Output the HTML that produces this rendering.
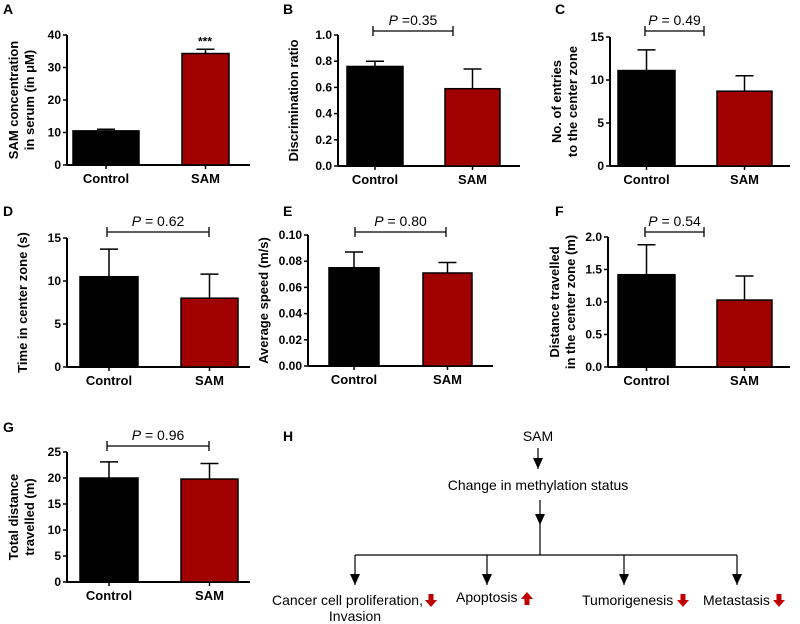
<!DOCTYPE html>
<html><head><meta charset="utf-8"><style>
body{margin:0;background:#fff;}
svg{display:block;font-family:"Liberation Sans",Arial,sans-serif;}
.t{font-size:12px;font-weight:bold;}
.lab{font-size:13px;font-weight:bold;}
.yl{font-size:13px;font-weight:bold;}
.pl{font-size:14px;font-weight:bold;}
.h{font-size:14px;}
</style></head><body>
<svg id="c" width="800" height="624" viewBox="0 0 800 624">
<defs><marker id="ar" markerWidth="12" markerHeight="12" refX="11" refY="5" orient="auto" markerUnits="userSpaceOnUse"><path d="M0,0 L11,5 L0,10 z" fill="#000"/></marker></defs>
</svg>
<script>
const categories=["Control","SAM"];
const meansA=[10.5,34.3], errA=[0.5,1.3];
const meansB=[0.76,0.59], errB=[0.04,0.15];
const meansC=[11.1,8.7], errC=[2.4,1.8];
const meansD=[10.5,8.0], errD=[3.2,2.8];
const meansE=[0.075,0.071], errE=[0.012,0.008];
const meansF=[1.42,1.03], errF=[0.46,0.37];
const meansG=[20.0,19.8], errG=[3.1,3.0];
const ticksA=["0","10","20","30","40"];
const ticksB=["0.0","0.2","0.4","0.6","0.8","1.0"];
const ticksC=["0","5","10","15"];
const ticksD=["0","5","10","15"];
const ticksE=["0.00","0.02","0.04","0.06","0.08","0.10"];
const ticksF=["0.0","0.5","1.0","1.5","2.0"];
const ticksG=["0","5","10","15","20","25"];
const svg=document.getElementById('c');
const NS="http://www.w3.org/2000/svg";
function mk(tag,at,parent,txt){const e=document.createElementNS(NS,tag);for(const k in at)e.setAttribute(k,at[k]);if(txt!=null)e.textContent=txt;(parent||svg).appendChild(e);return e;}
const colors=["#000","#a00000"];
function panel(id,letter,lx,ly,ax,top,bot,axEnd,bars,means,errs,ticks,ytitle,ptext,bracket){
  const g=mk('g',{});
  
  
  const L=mk('text',{x:lx,y:ly,class:'pl'},g,letter);
  
  
  const vmax=parseFloat(ticks[ticks.length-1]);
  const y=v=>bot-(v/vmax)*(bot-top);
  mk('line',{x1:ax,y1:top,x2:ax,y2:bot,stroke:'#000','stroke-width':2},g);
  mk('line',{x1:ax,y1:bot,x2:axEnd,y2:bot,stroke:'#000','stroke-width':2},g);
  ticks.forEach(t=>{const yy=y(parseFloat(t));
    mk('line',{x1:ax-4,y1:yy,x2:ax,y2:yy,stroke:'#000','stroke-width':1.5},g);
    const tt=mk('text',{x:ax-6,y:yy+4,'text-anchor':'end',class:'t'},g,t);
    
    
  });
  means.forEach((m,i)=>{const [x0,x1]=bars[i];const cx=(x0+x1)/2;
    const r=mk('rect',{x:x0,y:y(m),width:x1-x0,height:bot-y(m),fill:colors[i],stroke:'#000','stroke-width':1.5},g);
    
    
    mk('line',{x1:cx,y1:y(m),x2:cx,y2:y(m+errs[i]),stroke:'#000','stroke-width':1.5},g);
    mk('line',{x1:cx-9,y1:y(m+errs[i]),x2:cx+9,y2:y(m+errs[i]),stroke:'#000','stroke-width':1.5},g);
    mk('line',{x1:cx,y1:bot,x2:cx,y2:bot+4,stroke:'#000','stroke-width':1.5},g);
    const xl=mk('text',{x:cx,y:bot+18,'text-anchor':'middle',class:'lab'},g,categories[i]);
    
    
  });
  const tx=ax-40, ty=(top+bot)/2;
  const yt=mk('text',{transform:`translate(${tx-(ytitle.length>1?9:0)},${ty}) rotate(-90)`,'text-anchor':'middle',class:'yl'},g);
  
  
  ytitle.forEach((s,i)=>mk('tspan',{x:0,dy:i?16:0},yt,s));
  if(ptext){const [b0,b1,by]=bracket;
    mk('path',{d:`M${b0},${by-5}V${by+5}M${b0},${by}H${b1}M${b1},${by-5}V${by+5}`,stroke:'#000','stroke-width':1.3,fill:'none'},g);
    const pt=mk('text',{x:(b0+b1)/2,y:by-6,'text-anchor':'middle',style:'font-size:14px'},g);
    
    
    mk('tspan',{'font-style':'italic'},pt,'P');
    mk('tspan',{},pt,ptext);
  }
  return {g,y};
}
const pa=panel('a','A',3,14,67,35,165,250,[[73,139],[182,229]],meansA,errA,ticksA,["SAM concentration","in serum (in μM)"],null);
const st=mk('text',{x:205,y:pa.y(meansA[1]+errA[1])-4,'text-anchor':'middle',class:'t'},pa.g,'***');


panel('b','B',283,14,338,35,166,520,[[347,403],[445,500]],meansB,errB,ticksB,["Discrimination ratio"]," =0.35",[373,453,31]);
panel('c','C',555,14,610,37,166,790,[[618,675],[717,772]],meansC,errC,ticksC,["No. of entries","to the center zone"]," = 0.49",[645,704,31]);
panel('d','D',3,216,67,238,367,250,[[80,138],[181,238]],meansD,errD,ticksD,["Time in center zone (s)"]," = 0.62",[107,209,232]);
panel('e','E',283,216,308,235,366,493,[[329,379],[423,472]],meansE,errE,ticksE,["Average speed (m/s)"]," = 0.80",[355,446,232]);
panel('f','F',555,216,608,237,367,790,[[618,675],[717,772]],meansF,errF,ticksF,["Distance travelled","in the center zone (m)"]," = 0.54",[645,704,232]);
panel('g','G',3,432,67,452,582,250,[[80,138],[181,238]],meansG,errG,ticksG,["Total distance","travelled (m)"]," = 0.96",[107,209,446]);
// Panel H
const h=mk('g',{});


const hl=mk('text',{x:283,y:441,class:'pl'},h,'H');


function txt(x,y,s,anchor,name){const t=mk('text',{x,y,'text-anchor':anchor||'middle',class:'h'},h,s);return t;}
function arrow(x,y1,y2){mk('line',{x1:x,y1,x2:x,y2,stroke:'#000','stroke-width':1.2,'marker-end':'url(#ar)'},h);}
txt(538,441,'SAM','middle','sam-node');
arrow(538,448,469);
txt(538,490,'Change in methylation status','middle','methylation-node');
arrow(540,500,525);
mk('line',{x1:355,y1:555,x2:737,y2:555,stroke:'#000','stroke-width':1.2},h);
mk('line',{x1:540,y1:524,x2:540,y2:555,stroke:'#000','stroke-width':1.2},h);
[355,487,624,737].forEach(x=>arrow(x,555,585));
function redArrow(x,y,down){const p=down?`M${x-2.5},${y-11}h5v6h3.5l-6,7l-6,-7h3.5z`:`M${x-2.5},${y+2}h5v-6h3.5l-6,-7l-6,7h3.5z`;const e=mk('path',{d:p,fill:'#c00000'},h);}
txt(272,605,'Cancer cell proliferation,','start','outcome-proliferation');
txt(355,621,'Invasion','middle','outcome-invasion');
redArrow(431,605,true);
txt(456,602,'Apoptosis','start','outcome-apoptosis');
redArrow(527,603,false);
txt(582,605,'Tumorigenesis','start','outcome-tumorigenesis');
redArrow(683,605,true);
txt(703,605,'Metastasis','start','outcome-metastasis');
redArrow(779,605,true);
</script>
</body></html>
